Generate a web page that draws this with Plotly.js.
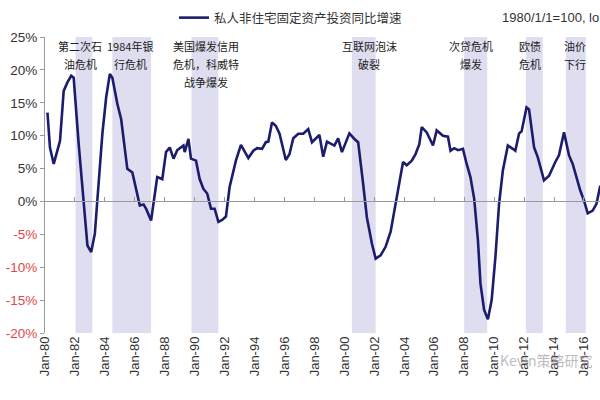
<!DOCTYPE html>
<html>
<head>
<meta charset="utf-8">
<script src="https://cdn.plot.ly/plotly-3.0.1.min.js"></script>
<style>html,body{margin:0;padding:0;background:#fff}#chart{width:600px;height:400px}</style>
</head>
<body>
<div id="chart"></div>
<script>
// Series: private non-residential fixed investment, YoY growth (%)
const dates = [
"1980-03-01","1980-05-01","1980-08-01","1981-01-01","1981-04-01","1981-07-01","1981-10-01","1981-12-01",
"1982-04-01","1982-08-01","1982-11-01","1983-02-01","1983-05-01","1983-07-01","1983-11-01",
"1984-02-01","1984-05-01","1984-07-01","1984-11-01","1985-02-01","1985-07-01","1985-11-01",
"1986-05-01","1986-08-01","1986-10-01","1987-02-01","1987-07-01","1987-11-01",
"1988-02-01","1988-05-01","1988-08-01","1988-11-01","1989-02-01","1989-04-01","1989-05-01","1989-08-01","1989-10-01",
"1990-02-01","1990-05-01","1990-08-01","1990-11-01","1991-02-01","1991-05-01","1991-08-01","1991-11-01",
"1992-02-01","1992-05-01","1992-10-01","1993-02-01","1993-05-01","1993-08-01","1993-12-01",
"1994-03-01","1994-07-01","1994-10-01","1994-12-01","1995-03-01","1995-06-01","1995-09-01",
"1996-02-01","1996-05-01","1996-08-01","1996-12-01","1997-04-01","1997-08-01","1997-11-01",
"1998-05-01","1998-08-01","1998-11-01","1999-05-01","1999-08-01","1999-11-01",
"2000-05-01","2000-09-01","2000-12-01","2001-04-01","2001-07-01","2001-11-01",
"2002-02-01","2002-06-01","2002-10-01","2003-02-01","2003-06-01","2003-09-01","2003-12-01",
"2004-03-01","2004-07-01","2004-10-01","2005-01-01","2005-03-01","2005-07-01","2005-12-01",
"2006-03-01","2006-08-01","2006-12-01","2007-02-01","2007-05-01","2007-08-01","2007-12-01",
"2008-03-01","2008-06-01","2008-09-01","2008-12-01","2009-02-01","2009-05-01","2009-08-01","2009-11-01",
"2010-02-01","2010-05-01","2010-08-01","2010-12-01","2011-04-01","2011-06-01","2011-09-01","2011-11-01",
"2012-03-01","2012-05-01","2012-09-01","2012-12-01","2013-05-01","2013-09-01",
"2014-02-01","2014-05-01","2014-09-01","2015-01-01","2015-04-01","2015-10-01",
"2016-01-01","2016-04-01","2016-08-01","2016-11-01","2017-02-01"
];
const growth = [
13.5,8.2,5.7,9.2,16.8,18.1,19.1,18.8,
8.8,-0.3,-6.7,-7.7,-4.9,0.15,10.3,
15.8,19.4,18.8,14.8,12.5,4.95,4.4,
-0.6,-0.45,-1.1,-2.9,3.7,3.4,
7.5,8.2,6.5,7.8,8.2,8.5,7.5,9.5,6.5,
6.2,3.4,1.9,1.2,-1.1,-1.1,-3.1,-2.8,
-2.3,2.2,6.2,8.6,7.7,6.6,7.7,
8.1,8.0,9.0,9.1,12.0,11.5,10.3,
6.3,7.2,9.6,10.3,10.3,11.0,9.0,
10.1,6.8,9.1,8.5,9.6,7.5,
10.35,9.5,9.0,2.7,-2.4,-6.4,
-8.7,-8.2,-6.9,-4.6,-0.6,2.7,6.0,
5.5,6.2,7.2,8.7,11.3,10.5,8.5,
10.8,10.0,9.85,7.7,8.1,7.8,8.0,
5.7,3.7,0.4,-5.9,-12.5,-16.5,-17.9,-15.0,
-8.4,-0.35,4.7,8.5,8.0,7.7,10.35,10.65,
14.3,14.0,8.2,6.7,3.2,3.9,
6.0,7.0,10.5,7.0,5.7,1.7,
0.15,-1.8,-1.4,-0.35,2.4
];
const seriesName = "私人非住宅固定资产投资同比增速";

// Crisis periods (shaded bands)
const bandStart = ["1982-01-15","1984-07-01","1989-10-15","2000-07-01","2008-01-01","2012-02-15","2014-10-15"];
const bandEnd   = ["1983-03-01","1987-02-01","1991-08-01","2002-02-01","2009-07-15","2013-04-01","2016-02-15"];
const bandLabels = [
  ["第二次石","油危机"],
  ["1984年银","行危机"],
  ["美国爆发信用","危机，科威特","战争爆发"],
  ["互联网泡沫","破裂"],
  ["次贷危机","爆发"],
  ["欧债","危机"],
  ["油价","下行"]
];
const labelCenterPx = [80, 130, 206, 369, 471, 530, 575];

const yTickVals = [-20,-15,-10,-5,0,5,10,15,20,25];
const noteText = "1980/1/1=100, lo";
const watermark = "Kevin策略研究";

// plot geometry
const L = 45, R = 600, T = 37, B = 333;
const px2paperX = p => (p - L) / (R - L);
const px2paperY = p => (B - p) / (B - T);

const yTickText = yTickVals.map(v => v < 0
  ? '<span style="color:#e0474c">' + v + '%</span>'
  : v + '%');

const shapes = bandStart.map((s, i) => ({
  type: 'rect', xref: 'x', yref: 'paper', x0: s, x1: bandEnd[i], y0: 0, y1: 1,
  fillcolor: '#dedef0', line: {width: 0}, layer: 'below'
}));

const annotations = [];
bandLabels.forEach((lines, i) => {
  lines.forEach((t, j) => {
    annotations.push({
      xref: 'paper', yref: 'paper', x: px2paperX(labelCenterPx[i]), y: px2paperY(46 + j * 18),
      xanchor: 'center', yanchor: 'middle', showarrow: false, text: t,
      font: {family: 'Noto Sans CJK SC', size: 11, color: '#222'}
    });
  });
});
annotations.push({
  xref: 'paper', yref: 'paper', x: px2paperX(500), y: px2paperY(18),
  xanchor: 'left', yanchor: 'middle', showarrow: false, text: noteText,
  font: {family: 'Liberation Sans, Arial', size: 13, color: '#333'}
});
annotations.push({
  xref: 'paper', yref: 'paper', x: px2paperX(498), y: px2paperY(360),
  xanchor: 'left', yanchor: 'middle', showarrow: false, text: watermark,
  font: {family: 'Noto Sans CJK SC', size: 14, color: 'rgba(140,140,150,0.6)'}
});

const xRange = ["1980-01-01", "2017-01-26"];

const traces = [
  {x: dates, y: growth, type: 'scatter', mode: 'lines', name: seriesName,
   line: {color: '#1c1c6e', width: 2.6}, hoverinfo: 'skip'},
  {x: [], y: [], xaxis: 'x2', type: 'scatter', mode: 'lines', showlegend: false, hoverinfo: 'skip'}
];

const layout = {
  width: 600, height: 400,
  margin: {l: L, r: 600 - R, t: T, b: 400 - B, pad: 0},
  paper_bgcolor: '#fff', plot_bgcolor: '#fff',
  font: {family: 'Liberation Sans, Arial, sans-serif', size: 13, color: '#333'},
  showlegend: true,
  legend: {
    orientation: 'h', x: px2paperX(174), xanchor: 'left', y: px2paperY(18), yanchor: 'middle',
    font: {family: 'Noto Sans CJK SC', size: 12.5, color: '#333'}, bgcolor: 'rgba(0,0,0,0)'
  },
  xaxis: {
    type: 'date', range: xRange, tick0: '1980-01-01', dtick: 'M24', tickformat: '%b-%y',
    tickangle: -90, showgrid: false, zeroline: false, showline: false, ticks: '',
    tickfont: {family: 'Liberation Sans, Arial', size: 13, color: '#333'}
  },
  xaxis2: {
    type: 'date', range: xRange, overlaying: 'x', anchor: 'free', position: px2paperY(201),
    tick0: '1980-01-01', dtick: 'M24', showticklabels: false, ticks: 'inside', ticklen: 4,
    tickcolor: '#999', showline: true, linecolor: '#999', linewidth: 1, showgrid: false, zeroline: false
  },
  yaxis: {
    range: [-20, 25], tickvals: yTickVals, ticktext: yTickText, showgrid: false,
    zeroline: false, showline: true, linecolor: '#999', linewidth: 1,
    ticks: 'outside', ticklen: 4, tickcolor: '#999',
    tickfont: {family: 'Liberation Sans, Arial', size: 13.5, color: '#333'}
  },
  shapes: shapes,
  annotations: annotations
};

Plotly.newPlot('chart', traces, layout, {staticPlot: true, displayModeBar: false});
</script>
</body>
</html>
